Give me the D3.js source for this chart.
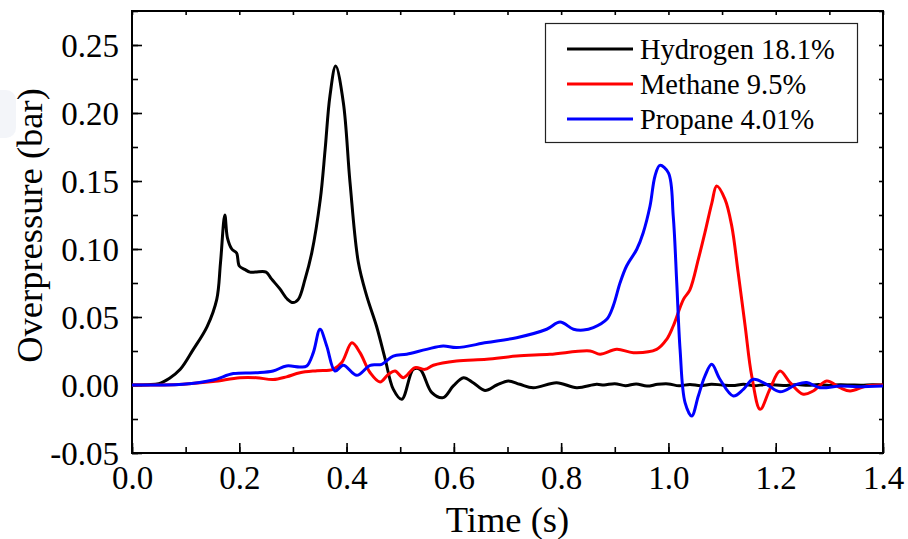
<!DOCTYPE html>
<head>
    <meta charset=utf-8>
    <title>Overpressure</title>
    <script src="https://d3js.org/d3.v7.min.js"></script>
    <style>
        body { margin: 0; background: #fff; }
        text { font-family: "Liberation Serif", "Times New Roman", serif; fill: #000; }
        .axis path { display: none; }
        .axis line { stroke: #000; stroke-width: 1.6px; }
        .axis text { font-size: 33px; font-family: "Liberation Serif", serif; }
        .curve { fill: none; stroke-width: 3px; stroke-linejoin: round; }
    </style>
</head>
<body>
<script>
    // time (s) / overpressure (bar)
    var h2_t = [0, 0.03, 0.05, 0.07, 0.09, 0.114, 0.14, 0.158, 0.165, 0.173, 0.178, 0.186, 0.195, 0.2, 0.21, 0.22, 0.23, 0.25, 0.26, 0.275, 0.29, 0.3, 0.31, 0.3225, 0.335, 0.351, 0.36, 0.369, 0.3797, 0.394, 0.4064, 0.422, 0.4375, 0.456, 0.472, 0.487, 0.503, 0.5245, 0.537, 0.559, 0.58, 0.599, 0.618, 0.636, 0.658, 0.68, 0.7015, 0.723, 0.748, 0.7915, 0.829, 0.866,
                0.88, 0.9, 0.92, 0.94, 0.96, 0.98, 1.0, 1.02, 1.04, 1.06, 1.08, 1.1, 1.12, 1.14, 1.16, 1.18, 1.2, 1.22, 1.24, 1.26, 1.28, 1.3, 1.32, 1.34, 1.36, 1.38, 1.4];
    var h2_p = [0, 0.0002, 0.001, 0.005, 0.0115, 0.026, 0.043, 0.063, 0.09, 0.125, 0.108, 0.1, 0.097, 0.0875, 0.085, 0.083, 0.083, 0.083, 0.078, 0.071, 0.063, 0.0606, 0.063, 0.0777, 0.097, 0.1365, 0.173, 0.2125, 0.2345, 0.2076, 0.149, 0.09, 0.0655, 0.043, 0.019, -0.003, -0.0105, 0.0115, 0.0115, -0.0056, -0.0093, -0.0007, 0.0054, 0.0017, -0.004, 0, 0.003, 0.0005, -0.002, 0.0017, -0.002, 0.0005,
                0, 0.001, -0.0005, 0.0008, -0.0008, 0.0005, 0.0008, -0.0006, 0.0004, -0.0005, 0.0006, 0, -0.0004, 0.0005, -0.0005, 0.0003, 0, -0.0004, 0.0003, -0.0002, 0.0003, -0.0003, 0.0002, 0, -0.0002, 0.0002, 0];

    var ch4_t = [0, 0.05, 0.095, 0.151, 0.201, 0.232, 0.263, 0.288, 0.313, 0.345, 0.375, 0.391, 0.41, 0.425, 0.444, 0.4625, 0.478, 0.4904, 0.5058, 0.5275, 0.546, 0.5617, 0.605, 0.661, 0.717, 0.779, 0.854, 0.8725, 0.9036, 0.9346, 0.978, 0.9968, 1.009, 1.028, 1.04, 1.0557, 1.068, 1.081, 1.09, 1.1055, 1.118, 1.13, 1.143, 1.1553, 1.171, 1.189, 1.208, 1.2267, 1.2515, 1.27, 1.295, 1.32, 1.3386, 1.3697, 1.4];
    var ch4_p = [0, 0, 0.0005, 0.0025, 0.0054, 0.0054, 0.004, 0.006, 0.009, 0.0105, 0.0115, 0.0165, 0.031, 0.0238, 0.009, 0.0022, 0.0079, 0.0103, 0.0054, 0.0128, 0.0115, 0.0145, 0.0176, 0.0189, 0.0213, 0.0226, 0.025, 0.0226, 0.0262, 0.0238, 0.0262, 0.0336, 0.0434, 0.063, 0.07, 0.0924, 0.112, 0.134, 0.1463, 0.1365, 0.117, 0.0826, 0.0434, 0.0066, -0.0179, -0.0032, 0.0103, 0.0018, -0.0068, -0.0044, 0.003, -0.002, -0.0044, -0.0007, 0];

    var c3h8_t = [0, 0.05, 0.095, 0.1516, 0.189, 0.232, 0.263, 0.288, 0.313, 0.3257, 0.338, 0.3505, 0.363, 0.3785, 0.394, 0.419, 0.444, 0.4655, 0.487, 0.512, 0.549, 0.58, 0.605, 0.661, 0.717, 0.773, 0.798, 0.823, 0.8415, 0.86, 0.885, 0.897, 0.91, 0.922, 0.941, 0.953, 0.9657, 0.975, 0.984, 1.0, 1.009, 1.0155, 1.0217, 1.031, 1.0434, 1.0557, 1.068, 1.0807, 1.096, 1.121, 1.1396, 1.158, 1.183, 1.208, 1.239, 1.258, 1.2826, 1.32, 1.351, 1.4];
    var c3h8_p = [0, 0, 0.0005, 0.0037, 0.0084, 0.009, 0.0103, 0.014, 0.0133, 0.014, 0.0238, 0.041, 0.0287, 0.0103, 0.0145, 0.0071, 0.0145, 0.0152, 0.0213, 0.0226, 0.0262, 0.0287, 0.0275, 0.0312, 0.0348, 0.041, 0.0463, 0.041, 0.0404, 0.0422, 0.0483, 0.058, 0.0753, 0.0875, 0.0998, 0.112, 0.1316, 0.1537, 0.1615, 0.156, 0.124, 0.0753, 0.0262, -0.0129, -0.0228, -0.0081, 0.0066, 0.0152, 0.0042, -0.0081, -0.0032, 0.0042, 0.0005, -0.005, 0.0005, 0.0018, -0.002, -0.0007, -0.0012, -0.0007];

    var seriesNames = ["Hydrogen 18.1%", "Methane 9.5%", "Propane 4.01%"];
    var seriesColors = ["#000000", "#ff0000", "#0000ff"];
    var xTicks = [0, 0.2, 0.4, 0.6, 0.8, 1.0, 1.2, 1.4];
    var yTicks = [-0.05, 0, 0.05, 0.10, 0.15, 0.20, 0.25];

    var series = [
        d3.zip(h2_t, h2_p),
        d3.zip(ch4_t, ch4_p),
        d3.zip(c3h8_t, c3h8_p)
    ];

    var W = 908, H = 539,
        pLeft = 132, pRight = 883, pTop = 11, pBottom = 453;

    var x = d3.scaleLinear().domain([0, 1.4]).range([pLeft, pRight]),
        y = d3.scaleLinear().domain([-0.05, 0.275]).range([pBottom, pTop]);

    var f2 = d3.format(".2f");

    var svg = d3.select("body").append("svg")
        .attr("width", W)
        .attr("height", H);

    // faint smudge at the left edge of the scan
    svg.append("rect")
        .attr("x", -10).attr("y", 90).attr("width", 26).attr("height", 48).attr("rx", 10)
        .attr("fill", "#eef1f6").attr("opacity", 0.7);

    // minor ticks
    var xMinor = d3.range(0, 1.41, 0.1), yMinor = d3.range(-0.05, 0.2751, 0.025);

    svg.append("g").attr("class", "axis")
        .attr("transform", "translate(0," + pBottom + ")")
        .call(d3.axisBottom(x).tickValues(xMinor).tickSizeInner(-6).tickSizeOuter(0).tickFormat(""));
    svg.append("g").attr("class", "axis")
        .attr("transform", "translate(" + pLeft + ",0)")
        .call(d3.axisLeft(y).tickValues(yMinor).tickSizeInner(-6).tickSizeOuter(0).tickFormat(""));
    svg.append("g").attr("class", "axis")
        .attr("transform", "translate(0," + pTop + ")")
        .call(d3.axisTop(x).tickValues(xMinor).tickSizeInner(-4).tickSizeOuter(0).tickFormat(""));
    svg.append("g").attr("class", "axis")
        .attr("transform", "translate(" + pRight + ",0)")
        .call(d3.axisRight(y).tickValues(yMinor).tickSizeInner(-4).tickSizeOuter(0).tickFormat(""));

    // major ticks + labels
    svg.append("g").attr("class", "axis")
        .attr("transform", "translate(0," + pBottom + ")")
        .call(d3.axisBottom(x).tickValues(xTicks).tickSizeInner(-10).tickSizeOuter(0).tickPadding(13).tickFormat(d3.format(".1f")))
        .selectAll("text").attr("dy", "0.71em");
    svg.append("g").attr("class", "axis")
        .attr("transform", "translate(" + pLeft + ",0)")
        .call(d3.axisLeft(y).tickValues(yTicks).tickSizeInner(-10).tickSizeOuter(0).tickPadding(13)
            .tickFormat(d => f2(d).replace("\u2212", "-")))
        .selectAll("text").attr("dy", "0.34em");

    // frame
    svg.append("rect")
        .attr("x", pLeft).attr("y", pTop)
        .attr("width", pRight - pLeft).attr("height", pBottom - pTop)
        .attr("fill", "none").attr("stroke", "#000").attr("stroke-width", 2);

    var line = d3.line()
        .x(d => x(d[0]))
        .y(d => y(d[1]))
        .curve(d3.curveCatmullRom.alpha(0.5));

    svg.append("g").selectAll("path")
        .data(series)
        .enter()
        .append("path")
        .attr("class", "curve")
        .attr("stroke", (d, i) => seriesColors[i])
        .attr("d", line);

    // legend
    var lg = svg.append("g");
    lg.append("rect")
        .attr("x", 545.5).attr("y", 23.5)
        .attr("width", 312).attr("height", 119)
        .attr("fill", "#fff").attr("stroke", "#222").attr("stroke-width", 1.2);
    seriesNames.forEach(function (name, i) {
        var yy = 49 + i * 35;
        lg.append("line")
            .attr("x1", 567).attr("x2", 633)
            .attr("y1", yy).attr("y2", yy)
            .attr("stroke", seriesColors[i]).attr("stroke-width", 3);
        lg.append("text")
            .attr("x", 640).attr("y", yy).attr("dy", "0.34em")
            .style("font-size", "28.5px")
            .text(name);
    });

    // axis titles
    svg.append("text")
        .attr("x", (pLeft + pRight) / 2).attr("y", 532)
        .attr("text-anchor", "middle")
        .style("font-size", "36.5px")
        .text("Time (s)");
    svg.append("text")
        .attr("transform", "translate(42,225.5) rotate(-90)")
        .attr("text-anchor", "middle")
        .style("font-size", "36.5px")
        .text("Overpressure (bar)");
</script>
</body>
